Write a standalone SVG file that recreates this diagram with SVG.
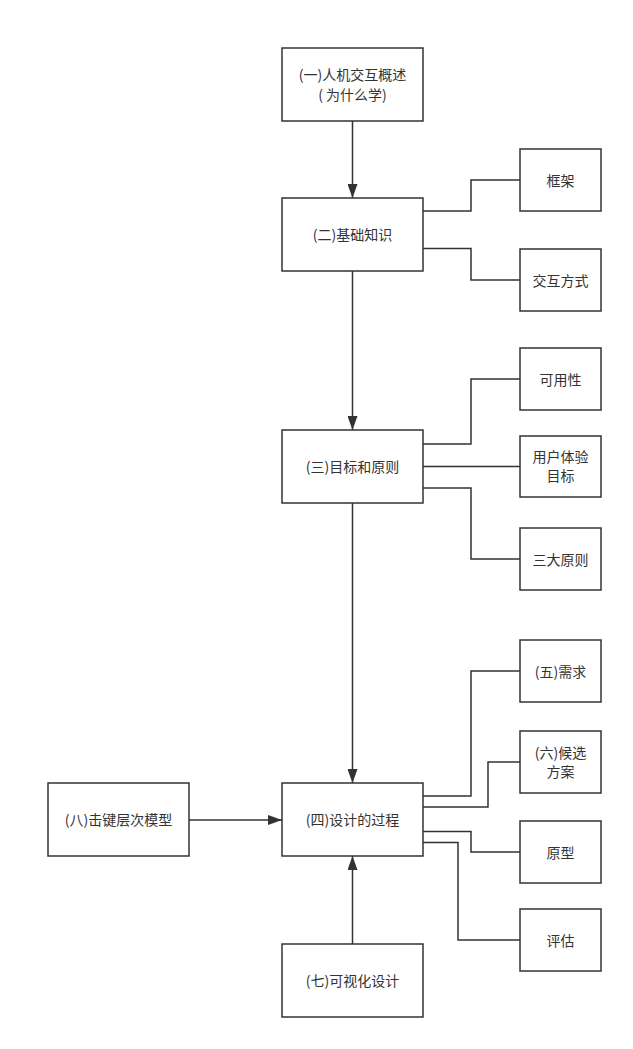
<svg xmlns="http://www.w3.org/2000/svg" width="633" height="1049" viewBox="0 0 633 1049">
<style>
.box{fill:#fff;stroke:#333;stroke-width:1.5}
.t{font-family:"Noto Sans CJK SC","Noto Sans",sans-serif;font-size:14px;fill:#333;text-anchor:middle;dominant-baseline:central}
.c{fill:none;stroke:#333;stroke-width:1.5}
</style>
<defs>
<marker id="arrL" viewBox="0 0 14 10" refX="14" refY="5" markerWidth="14" markerHeight="10" markerUnits="userSpaceOnUse" orient="auto">
<path d="M0,0 L14,5 L0,10 Z" fill="#333"/>
</marker>
</defs>
<rect width="633" height="1049" fill="#fff"/>
<g id="connectors">
<path class="c" d="M352.5,121 V198" marker-end="url(#arrL)"/>
<path class="c" d="M352.5,271 V430" marker-end="url(#arrL)"/>
<path class="c" d="M352.5,503 V783" marker-end="url(#arrL)"/>
<path class="c" d="M352.5,944 V856" marker-end="url(#arrL)"/>
<path class="c" d="M189,820 H282" marker-end="url(#arrL)"/>
<path class="c" d="M423,211 H471 V180 H520"/>
<path class="c" d="M423,248.5 H471 V280 H520"/>
<path class="c" d="M423,444 H471 V379 H520"/>
<path class="c" d="M423,466.5 H520"/>
<path class="c" d="M423,488 H471 V559 H520"/>
<path class="c" d="M423,796 H471 V671 H520"/>
<path class="c" d="M423,807 H488 V762 H520"/>
<path class="c" d="M423,831.5 H471 V852 H520"/>
<path class="c" d="M423,842.5 H458 V940 H520"/>
</g>
<g id="n1"><rect class="box" x="282" y="48" width="141" height="73"/><text class="t" x="352.5" y="74">(一)人机交互概述</text><text class="t" x="352.5" y="94">( 为什么学)</text></g>
<g id="n2"><rect class="box" x="282" y="198" width="141" height="73"/><text class="t" x="352.5" y="234">(二)基础知识</text></g>
<g id="n3"><rect class="box" x="282" y="430" width="141" height="73"/><text class="t" x="352.5" y="466">(三)目标和原则</text></g>
<g id="n4"><rect class="box" x="282" y="783" width="141" height="73"/><text class="t" x="352.5" y="819">(四)设计的过程</text></g>
<g id="n7"><rect class="box" x="282" y="944" width="141" height="73"/><text class="t" x="352.5" y="980">(七)可视化设计</text></g>
<g id="n8"><rect class="box" x="48" y="783" width="141" height="73"/><text class="t" x="118.5" y="819">(八)击键层次模型</text></g>
<g id="r1"><rect class="box" x="520" y="149" width="81" height="62"/><text class="t" x="560.5" y="180">框架</text></g>
<g id="r2"><rect class="box" x="520" y="249" width="81" height="62"/><text class="t" x="560.5" y="280">交互方式</text></g>
<g id="r3"><rect class="box" x="520" y="348" width="81" height="62"/><text class="t" x="560.5" y="379">可用性</text></g>
<g id="r4"><rect class="box" x="520" y="436" width="81" height="61"/><text class="t" x="560.5" y="456">用户体验</text><text class="t" x="560.5" y="475">目标</text></g>
<g id="r5"><rect class="box" x="520" y="528" width="81" height="62"/><text class="t" x="560.5" y="559">三大原则</text></g>
<g id="r6"><rect class="box" x="520" y="640" width="81" height="62"/><text class="t" x="560.5" y="671">(五)需求</text></g>
<g id="r7"><rect class="box" x="520" y="731" width="81" height="62"/><text class="t" x="560.5" y="752">(六)候选</text><text class="t" x="560.5" y="771">方案</text></g>
<g id="r8"><rect class="box" x="520" y="821" width="81" height="62"/><text class="t" x="560.5" y="852">原型</text></g>
<g id="r9"><rect class="box" x="520" y="909" width="81" height="62"/><text class="t" x="560.5" y="940">评估</text></g>
</svg>
